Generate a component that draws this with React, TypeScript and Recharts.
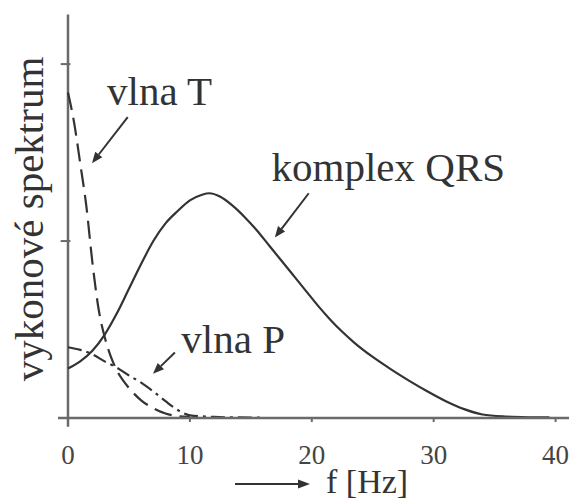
import { LineChart, Line, XAxis, YAxis, ReferenceLine, ReferenceDot } from 'recharts'

// power spectrum of ECG components (f in Hz, arbitrary units)
const qrsFreq = [0, 1, 2, 3, 4, 5, 6, 7, 8, 9, 10, 11, 11.6, 12.5, 13.5, 14.5, 15.5, 16.5, 17.5, 18.5, 19.5, 20.5, 21.5, 22.5, 23.5, 25, 26.5, 28, 29.5, 31, 32.5, 34, 36, 38, 39.5]
const qrsPower = [0.28, 0.32, 0.38, 0.47, 0.59, 0.73, 0.87, 1.0, 1.1, 1.17, 1.23, 1.262, 1.27, 1.25, 1.2, 1.135, 1.06, 0.975, 0.89, 0.805, 0.72, 0.635, 0.557, 0.487, 0.425, 0.345, 0.275, 0.21, 0.15, 0.095, 0.05, 0.02, 0.008, 0.004, 0.003]

const tFreq = [0, 0.5, 1, 1.5, 2, 2.5, 3, 3.5, 4, 5, 6, 7, 8, 9, 10]
const tPower = [1.84, 1.67, 1.44, 1.2, 0.88, 0.62, 0.46, 0.35, 0.27, 0.17, 0.1, 0.055, 0.025, 0.01, 0.005]

const pFreq = [0, 1, 2, 3, 4, 5, 6, 7, 8, 9, 10, 12, 14, 16]
const pPower = [0.4, 0.385, 0.36, 0.32, 0.285, 0.24, 0.2, 0.15, 0.095, 0.045, 0.015, 0.006, 0.003, 0.002]

const xTicks = [0, 10, 20, 30, 40]
const yTicks = [1, 2]

// callouts, placed in data units
const notes = [
  { text: 'vlna T', f: 3.2, v: 1.77 },
  { text: 'komplex QRS', f: 16.7, v: 1.34 },
  { text: 'vlna P', f: 9.3, v: 0.37 },
]
const pointers = [
  { from: { x: 4.9, y: 1.7 }, to: { x: 1.97, y: 1.44 } },
  { from: { x: 19.75, y: 1.27 }, to: { x: 16.97, y: 1.02 } },
  { from: { x: 8.77, y: 0.37 }, to: { x: 6.97, y: 0.25 } },
]

const INK = '#333'
const AXIS = '#6a6a6a'
const FONT = 'Liberation Serif'

const zip = (fs: number[], vs: number[]) => fs.map((f, i) => ({ f, v: vs[i] }))

function Arrow(props: any) {
  const { x1, y1, x2, y2 } = props
  const dx = x2 - x1
  const dy = y2 - y1
  const len = Math.hypot(dx, dy) || 1
  const ux = dx / len
  const uy = dy / len
  const head = 11
  const half = 4.5
  const bx = x2 - ux * head
  const by = y2 - uy * head
  return (
    <g>
      <line x1={x1} y1={y1} x2={bx} y2={by} stroke={INK} strokeWidth={2} />
      <polygon
        points={`${x2},${y2} ${bx - uy * half},${by + ux * half} ${bx + uy * half},${by - ux * half}`}
        fill={INK}
      />
    </g>
  )
}

export default function App() {
  const qrs = zip(qrsFreq, qrsPower)
  const tWave = zip(tFreq, tPower)
  const pWave = zip(pFreq, pPower)

  return (
    <div style={{ position: 'absolute', left: 0, top: 0, width: 574, height: 500 }}>
      <LineChart width={574} height={500} margin={{ top: 11, right: 5, bottom: 0, left: 58 }}>
        <XAxis
          type="number"
          dataKey="f"
          domain={[-0.82, 41.1]}
          ticks={xTicks}
          allowDataOverflow
          height={82}
          axisLine={{ stroke: AXIS, strokeWidth: 2.5 }}
          tickLine={{ stroke: AXIS, strokeWidth: 2 }}
          tickSize={4}
          tickMargin={23}
          tick={{ fontSize: 27, fill: '#444', fontFamily: FONT }}
        />
        <YAxis type="number" domain={[0, 2.3]} hide width={0} />

        <ReferenceLine
          segment={[{ x: 0, y: -0.05 }, { x: 0, y: 2.28 }]}
          stroke={AXIS}
          strokeWidth={2.5}
          ifOverflow="visible"
        />
        {yTicks.map(t => (
          <ReferenceLine
            key={t}
            segment={[{ x: -0.6, y: t }, { x: 0.2, y: t }]}
            stroke={AXIS}
            strokeWidth={2}
            ifOverflow="visible"
          />
        ))}

        <Line data={qrs} dataKey="v" type="monotone" stroke={INK} strokeWidth={2.2} dot={false} isAnimationActive={false} />
        <Line data={tWave} dataKey="v" type="monotone" stroke={INK} strokeWidth={2.2} strokeDasharray="18 8" dot={false} isAnimationActive={false} />
        <Line data={pWave} dataKey="v" type="monotone" stroke={INK} strokeWidth={2.2} strokeDasharray="14 5 3 5" dot={false} isAnimationActive={false} />

        {pointers.map((p, i) => (
          <ReferenceLine key={i} segment={[p.from, p.to]} shape={<Arrow />} ifOverflow="visible" />
        ))}
        {notes.map(n => (
          <ReferenceDot
            key={n.text}
            x={n.f}
            y={n.v}
            r={0}
            ifOverflow="visible"
            shape={(props: any) => (
              <text x={props.cx} y={props.cy} fontSize={41} fill={INK} fontFamily={FONT}>
                {n.text}
              </text>
            )}
          />
        ))}
      </LineChart>

      <svg width={574} height={500} style={{ position: 'absolute', left: 0, top: 0, pointerEvents: 'none' }}>
        <text
          x={43}
          y={219}
          transform="rotate(-90, 43, 219)"
          textAnchor="middle"
          fontSize={41}
          fill={INK}
          fontFamily={FONT}
        >
          vykonové spektrum
        </text>
        <line x1={235} y1={484} x2={299} y2={484} stroke={INK} strokeWidth={2} />
        <polygon points="310,484 298,479.5 298,488.5" fill={INK} />
        <text x={326} y={493} fontSize={34} fill={INK} fontFamily={FONT}>
          f [Hz]
        </text>
      </svg>
    </div>
  )
}
